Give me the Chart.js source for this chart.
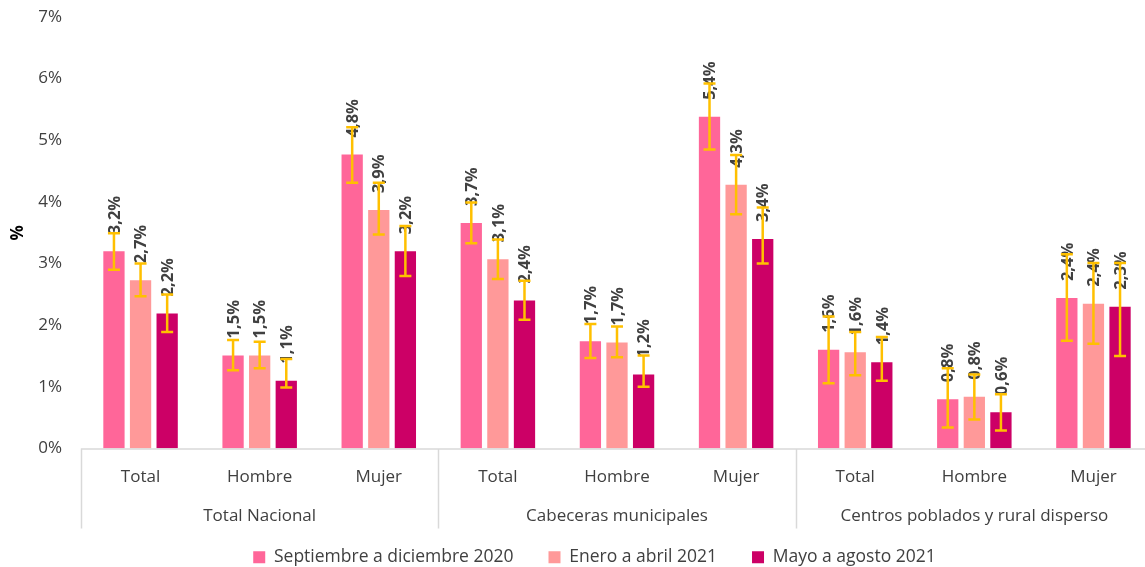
<!DOCTYPE html>
<html lang="es">
<head>
  <meta charset="UTF-8">
  <title>Tasa por sexo y dominio</title>
  <script src="https://cdn.jsdelivr.net/npm/chart.js"></script>
  <style>
    html, body { margin: 0; padding: 0; background: #fff; overflow: hidden; }
    .chart-container { position: relative; width: 1190px; height: 567px; }
  </style>
</head>
<body>
  <div class="chart-container">
    <canvas id="tasaChart"></canvas>
  </div>

  <script>
    // Categories and groups
    const categories = ['Total', 'Hombre', 'Mujer', 'Total', 'Hombre', 'Mujer', 'Total', 'Hombre', 'Mujer'];
    const groups = ['Total Nacional', 'Cabeceras municipales', 'Centros poblados y rural disperso'];
    const seriesNames = ['Septiembre a diciembre 2020', 'Enero a abril 2021', 'Mayo a agosto 2021'];
    const seriesColors = ['#FF6699', '#FF9999', '#CC0066'];
    const yTicks = [0, 1, 2, 3, 4, 5, 6, 7];

    // Values (%)
    const sepDic2020 = [3.20, 1.51, 4.77, 3.66, 1.74, 5.38, 1.60, 0.80, 2.44];
    const eneAbr2021 = [2.73, 1.51, 3.87, 3.07, 1.72, 4.28, 1.56, 0.84, 2.35];
    const mayAgo2021 = [2.19, 1.10, 3.20, 2.40, 1.20, 3.40, 1.40, 0.59, 2.30];

    // Confidence intervals (upper / lower)
    const sepDic2020Hi = [3.49, 1.76, 5.21, 3.99, 2.02, 5.92, 2.14, 1.30, 3.15];
    const sepDic2020Lo = [2.90, 1.27, 4.31, 3.33, 1.47, 4.85, 1.06, 0.34, 1.75];
    const eneAbr2021Hi = [3.00, 1.73, 4.31, 3.39, 1.98, 4.76, 1.89, 1.20, 3.01];
    const eneAbr2021Lo = [2.47, 1.30, 3.47, 2.75, 1.48, 3.80, 1.19, 0.47, 1.70];
    const mayAgo2021Hi = [2.50, 1.45, 3.61, 2.72, 1.51, 3.91, 1.81, 0.88, 3.01];
    const mayAgo2021Lo = [1.89, 0.99, 2.80, 2.09, 1.00, 3.00, 1.10, 0.29, 1.50];

    const seriesValues = [sepDic2020, eneAbr2021, mayAgo2021];
    const seriesHi = [sepDic2020Hi, eneAbr2021Hi, mayAgo2021Hi];
    const seriesLo = [sepDic2020Lo, eneAbr2021Lo, mayAgo2021Lo];

    const FONT = "'Open Sans', 'DejaVu Sans', sans-serif";
    const TEXT = '#404040';
    const LINE = '#d9d9d9';

    function fmt(v) {
      return v.toFixed(1).replace('.', ',') + '%';
    }

    // value labels + error bars
    const barExtras = {
      id: 'barExtras',
      afterDatasetsDraw(chart) {
        const ctx = chart.ctx;
        const y = chart.scales.y;
        ctx.save();
        // labels first, error bars on top
        ctx.font = 'bold 16.5px ' + FONT;
        ctx.fillStyle = TEXT;
        ctx.textAlign = 'left';
        ctx.textBaseline = 'middle';
        chart.data.datasets.forEach((ds, i) => {
          chart.getDatasetMeta(i).data.forEach((bar, j) => {
            ctx.save();
            ctx.translate(bar.x, bar.y - 17);
            ctx.rotate(-Math.PI / 2);
            ctx.fillText(fmt(ds.data[j]), 0, 1);
            ctx.restore();
          });
        });
        ctx.strokeStyle = '#FFC000';
        ctx.lineWidth = 2.5;
        chart.data.datasets.forEach((ds, i) => {
          chart.getDatasetMeta(i).data.forEach((bar, j) => {
            const yh = y.getPixelForValue(seriesHi[i][j]);
            const yl = y.getPixelForValue(seriesLo[i][j]);
            ctx.beginPath();
            ctx.moveTo(bar.x, yh); ctx.lineTo(bar.x, yl);
            ctx.moveTo(bar.x - 6, yh); ctx.lineTo(bar.x + 6, yh);
            ctx.moveTo(bar.x - 6, yl); ctx.lineTo(bar.x + 6, yl);
            ctx.stroke();
          });
        });
        ctx.restore();
      }
    };

    // grouped category axis (lines + group names)
    const groupAxis = {
      id: 'groupAxis',
      afterLayout(chart) {
        // legend sits a bit right of the plot centre in the original
        chart.legend.left += 18;
        chart.legend.right += 18;
      },
      afterDraw(chart) {
        const ctx = chart.ctx;
        const x = chart.scales.x;
        const area = chart.chartArea;
        const bottom = area.bottom + 80;
        const edges = [area.left];
        for (let g = 1; g < groups.length; g++) {
          edges.push((x.getPixelForValue(g * 3 - 1) + x.getPixelForValue(g * 3)) / 2);
        }
        edges.push(area.right);
        ctx.save();
        ctx.strokeStyle = LINE;
        ctx.lineWidth = 1.5;
        ctx.beginPath();
        ctx.moveTo(area.left, area.bottom + 0.5);
        ctx.lineTo(area.right, area.bottom + 0.5);
        edges.forEach(e => {
          ctx.moveTo(Math.round(e) + 0.5, area.bottom);
          ctx.lineTo(Math.round(e) + 0.5, bottom);
        });
        ctx.stroke();
        ctx.font = '17px ' + FONT;
        ctx.fillStyle = TEXT;
        ctx.textAlign = 'center';
        ctx.textBaseline = 'middle';
        groups.forEach((name, g) => {
          ctx.fillText(name, (edges[g] + edges[g + 1]) / 2, area.bottom + 68);
        });
        ctx.restore();
      }
    };

    new Chart(document.getElementById('tasaChart'), {
      type: 'bar',
      data: {
        labels: categories,
        datasets: seriesNames.map((name, i) => ({
          label: name,
          data: seriesValues[i],
          backgroundColor: seriesColors[i],
          categoryPercentage: 0.67,
          barPercentage: 0.8
        }))
      },
      options: {
        responsive: true,
        maintainAspectRatio: false,
        animation: false,
        devicePixelRatio: 1,
        layout: { padding: { top: 17, right: 37, bottom: -9, left: 0 } },
        plugins: {
          legend: {
            position: 'bottom',
            labels: {
              boxWidth: 12,
              boxHeight: 12,
              padding: 35,
              color: TEXT,
              font: { family: FONT, size: 17.5 }
            }
          },
          tooltip: { enabled: false }
        },
        scales: {
          x: {
            grid: { display: false, drawTicks: false },
            border: { display: false },
            ticks: { color: TEXT, padding: 18, font: { family: FONT, size: 17 } },
            afterFit(scale) { scale.height = 65; }
          },
          y: {
            min: 0,
            max: 7,
            afterBuildTicks(scale) { scale.ticks = yTicks.map(v => ({ value: v })); },
            grid: { display: false, drawTicks: true, tickLength: 16 },
            border: { display: false },
            ticks: {
              color: TEXT,
              padding: 3,
              font: { family: FONT, size: 17 },
              callback: v => v + '%'
            },
            title: {
              display: true,
              text: '%',
              color: '#000',
              padding: { top: 8, bottom: 0 },
              font: { family: FONT, size: 17, weight: 'bold' }
            },
            afterFit(scale) { scale.width = 81; }
          }
        }
      },
      plugins: [barExtras, groupAxis]
    });
  </script>
</body>
</html>
